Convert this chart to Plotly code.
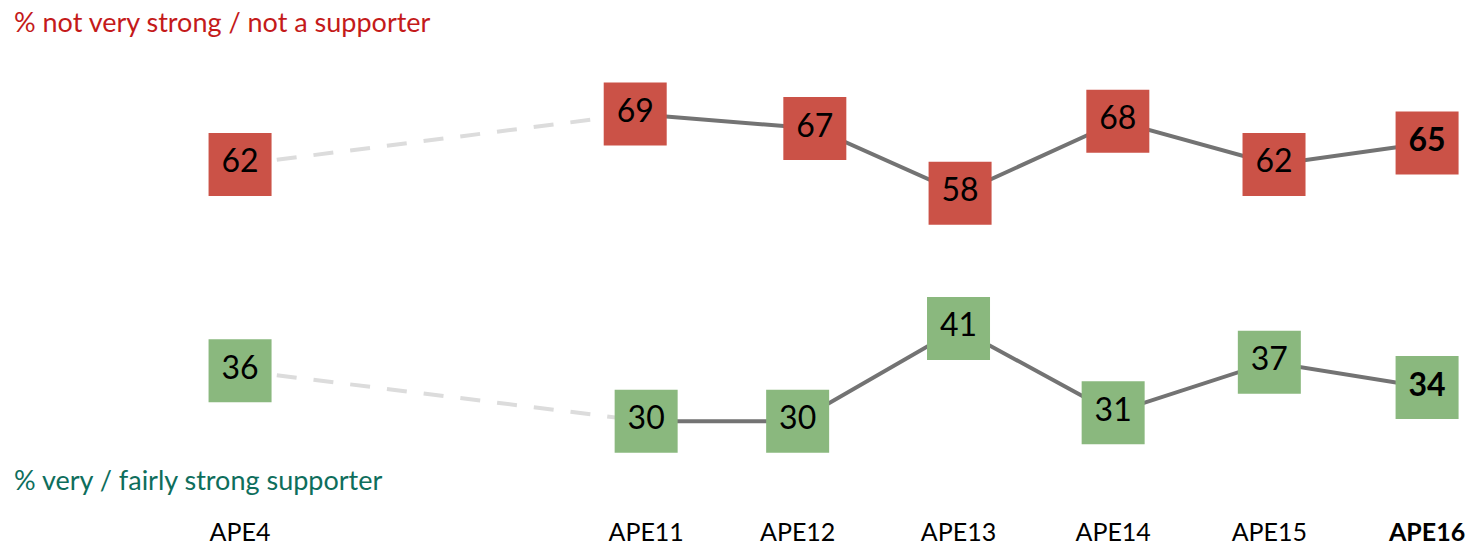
import plotly.graph_objects as go

# Survey waves and their positions along the x axis
waves = ["APE4", "APE11", "APE12", "APE13", "APE14", "APE15", "APE16"]
wave_pos = [0, 2.6, 3.57, 4.6, 5.59, 6.59, 7.6]
red_pos = [0, 2.53, 3.68, 4.61, 5.62, 6.62, 7.6]

# Percent values per wave
not_supporter = [62, 69, 67, 58, 68, 62, 65]
strong_supporter = [36, 30, 30, 41, 31, 37, 34]

RED = "#CB5247"
GREEN = "#8AB87E"
LINE = "#737373"
DASH = "#DCDCDC"
FONT = "Lato"


def labels(vals):
    out = [str(v) for v in vals]
    out[-1] = f"<b>{vals[-1]}</b>"
    return out


fig = go.Figure()

for xs, vals, color, yax in [
    (red_pos, not_supporter, RED, "y"),
    (wave_pos, strong_supporter, GREEN, "y2"),
]:
    # dashed link between the early wave and the recent series
    fig.add_trace(go.Scatter(
        x=xs[:2], y=vals[:2], yaxis=yax, mode="lines",
        line=dict(color=DASH, width=4, dash="20px,17px"),
        hoverinfo="skip", showlegend=False,
    ))
    fig.add_trace(go.Scatter(
        x=xs[1:], y=vals[1:], yaxis=yax, mode="lines",
        line=dict(color=LINE, width=4),
        hoverinfo="skip", showlegend=False,
    ))
    fig.add_trace(go.Scatter(
        x=xs, y=vals, yaxis=yax, mode="markers+text",
        marker=dict(symbol="square", size=63, color=color),
        text=labels(vals), textposition="middle center",
        textfont=dict(family=FONT, size=32, color="black"),
        showlegend=False,
    ))

ticktext = waves[:-1] + [f"<b>{waves[-1]}</b>"]

fig.update_layout(
    width=1473, height=546,
    margin=dict(l=0, r=0, t=0, b=28),
    paper_bgcolor="white", plot_bgcolor="white",
    font=dict(family=FONT, color="black"),
    xaxis=dict(
        range=[-1.537, 7.894], showgrid=False, zeroline=False, showline=False,
        tickmode="array", tickvals=wave_pos, ticktext=ticktext,
        tickfont=dict(family=FONT, size=25, color="black"), ticks="",
    ),
    yaxis=dict(range=[13.31, 84.85], visible=False, fixedrange=True),
    yaxis2=dict(range=[18.88, 79.96], visible=False, overlaying="y", fixedrange=True),
    annotations=[
        dict(text="% not very strong / not a supporter", xref="paper", yref="paper",
             x=0.008, y=0.9575, xanchor="left", yanchor="middle", showarrow=False,
             font=dict(family=FONT, size=27, color="#C41A1A")),
        dict(text="% very / fairly strong supporter", xref="paper", yref="paper",
             x=0.008, y=0.0695, xanchor="left", yanchor="middle", showarrow=False,
             font=dict(family=FONT, size=27, color="#0E6E5C")),
    ],
)

fig.write_html("out.html")
